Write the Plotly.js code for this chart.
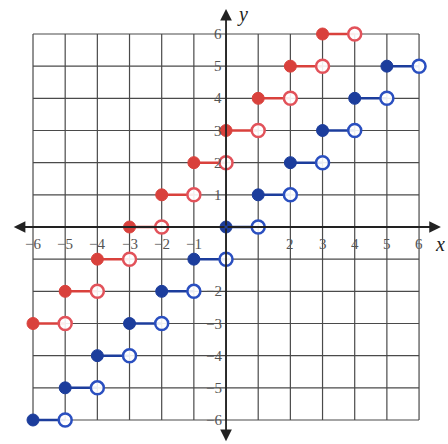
<!DOCTYPE html>
<html><head><meta charset="utf-8">
<script src="https://cdn.plot.ly/plotly-3.0.1.min.js"></script>
<style>html,body{margin:0;padding:0;background:#fff}#chart{width:448px;height:444px}</style>
</head><body><div id="chart"></div>
<script>
// Data
const redStarts = [-6, -5, -4, -3, -2, -1, 0, 1, 2, 3];
const redValues = [-3, -2, -1, 0, 1, 2, 3, 4, 5, 6];
const blueStarts = [-6, -5, -4, -3, -2, -1, 0, 1, 2, 3, 4, 5];
const blueValues = [-6, -5, -4, -3, -2, -1, 0, 1, 2, 3, 4, 5];
const gridTicks = [-6, -5, -4, -3, -2, -1, 0, 1, 2, 3, 4, 5, 6];
const xTickLabels = ["−6","−5","−4","−3","−2","−1","","2","3","4","5","6"];
const xTickVals = [-6,-5,-4,-3,-2,-1,0,2,3,4,5,6];
const yTickLabels = ["6","5","4","3","2","1","−2","−3","−4","−5","−6"];
const yTickVals = [6,5,4,3,2,1,-2,-3,-4,-5,-6];

const RED = '#d9413c', RED_OPEN = '#e2525a';
const BLUE = '#1c3d9c', BLUE_OPEN = '#2a4fc0';

function stepTraces(starts, vals, col, openCol) {
  const lx = [], ly = [];
  starts.forEach((s, i) => { lx.push(s, s + 1, null); ly.push(vals[i], vals[i], null); });
  return [
    {x: lx, y: ly, mode: 'lines', line: {color: col, width: 2.5}, hoverinfo: 'skip', showlegend: false},
    {x: starts.map(s => s + 1), y: vals, mode: 'markers', showlegend: false,
     marker: {symbol: 'circle', size: 13, color: 'rgba(255,255,255,0.9)', line: {color: openCol, width: 2.5}}},
    {x: starts, y: vals, mode: 'markers', showlegend: false,
     marker: {symbol: 'circle', size: 12, color: col, line: {color: col, width: 1}}}
  ];
}

const data = [...stepTraces(redStarts, redValues, RED, RED_OPEN), ...stepTraces(blueStarts, blueValues, BLUE, BLUE_OPEN)];

const shapes = [];
gridTicks.forEach(t => {
  shapes.push({type: 'line', xref: 'x', yref: 'y', x0: t, x1: t, y0: -6, y1: 6, line: {color: '#4a4a4a', width: 1.2}, layer: 'below'});
  shapes.push({type: 'line', xref: 'x', yref: 'y', x0: -6, x1: 6, y0: t, y1: t, line: {color: '#4a4a4a', width: 1.2}, layer: 'below'});
});

const annotations = [];
const axArrow = (x, y) => ({x: x, y: y, ax: 0, ay: 0, xref: 'x', yref: 'y', axref: 'x', ayref: 'y',
  showarrow: true, arrowhead: 2, arrowsize: 1.3, arrowwidth: 1.8, arrowcolor: '#222', text: ''});
annotations.push(axArrow(6.68, 0), axArrow(-6.6, 0), axArrow(0, 6.78), axArrow(0, -6.66));
xTickVals.forEach((v, i) => annotations.push({x: v, y: 0, xref: 'x', yref: 'y', yshift: -17, text: xTickLabels[i],
  showarrow: false, font: {family: 'Liberation Serif', size: 15, color: '#555'}}));
yTickVals.forEach((v, i) => annotations.push({x: 0, y: v, xref: 'x', yref: 'y', xanchor: 'right', xshift: -2, text: yTickLabels[i],
  showarrow: false, font: {family: 'Liberation Serif', size: 15, color: '#555'}}));
annotations.push({x: 6.66, y: 0, xref: 'x', yref: 'y', yshift: -17, text: '<i>x</i>', showarrow: false,
  font: {family: 'Liberation Serif', size: 20, color: '#222'}});
annotations.push({x: 0, y: 6.62, xref: 'x', yref: 'y', xshift: 16, text: '<i>y</i>', showarrow: false,
  font: {family: 'Liberation Serif', size: 20, color: '#222'}});

const layout = {
  width: 448, height: 444, margin: {l: 0, r: 0, t: 0, b: 0},
  paper_bgcolor: '#fff', plot_bgcolor: '#fff',
  xaxis: {range: [-7.026, 6.90], visible: false, fixedrange: true},
  yaxis: {range: [-6.746, 7.057], visible: false, fixedrange: true},
  shapes: shapes, annotations: annotations, showlegend: false
};
Plotly.newPlot('chart', data, layout, {staticPlot: true});
</script></body></html>
